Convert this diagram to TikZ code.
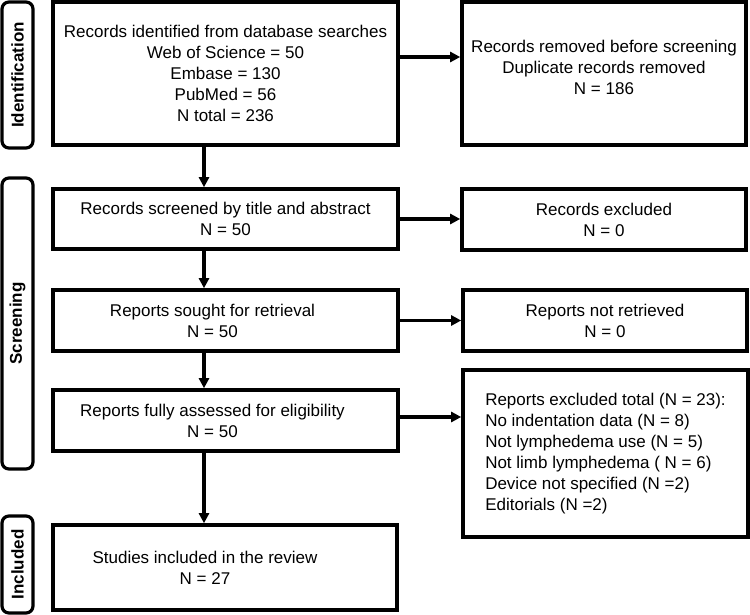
\documentclass[tikz,border=0pt]{standalone}
\usepackage{fontspec}
\setmainfont{Liberation Sans}
\usetikzlibrary{arrows.meta}

\tikzset{
  box/.style={draw, rectangle, line width=3.6pt, inner sep=0pt, align=center},
  sidebox/.style={draw, rectangle, line width=3.2pt, rounded corners=7pt, rotate=90, minimum height=31pt, inner sep=0pt, font=\fontsize{17}{21}\bfseries},
  arr/.style={-{Triangle[length=10pt,width=10pt]}, line width=3.3pt},
}

\begin{document}
\begin{tikzpicture}[x=1pt, y=-1pt, font=\fontsize{17}{21}\selectfont]
\useasboundingbox (0,0) rectangle (750,615);
% phase labels
\node[sidebox, minimum width=146pt] (phaseid) at (17.5,75) {Identification};
\node[sidebox, minimum width=291pt] (phasescr) at (17.5,323.5) {Screening};
\node[sidebox, minimum width=97pt] (phaseinc) at (17.5,564.5) {Included};
% left column
\node[box, minimum width=345pt, minimum height=143pt] (ident) at (225.5,73.5) {Records identified from database searches\\Web of Science = 50\\Embase = 130\\PubMed = 56\\N total = 236};
\node[box, minimum width=345pt, minimum height=60pt] (screen) at (225.5,219) {Records screened by title and abstract\\N = 50};
\node[box, minimum width=345pt, minimum height=61pt, label={[align=center, xshift=-13pt]center:{Reports sought for retrieval\\N = 50}}] (sought) at (225.5,320.5) {};
\node[box, minimum width=345pt, minimum height=61pt, label={[align=center, xshift=-13pt]center:{Reports fully assessed for eligibility\\N = 50}}] (assessed) at (225.5,420.5) {};
\node[box, minimum width=344pt, minimum height=85pt, label={[align=center, xshift=-20pt]center:{Studies included in the review\\N = 27}}] (incl) at (225,567.5) {};
% right column
\node[box, minimum width=284pt, minimum height=143pt, label={[align=center, yshift=6pt]center:{Records removed before screening\\Duplicate records removed\\N = 186}}] (removed) at (604,73.5) {};
\node[box, minimum width=284pt, minimum height=61pt] (excl) at (604,219.5) {Records excluded\\N = 0};
\node[box, minimum width=284pt, minimum height=61pt] (notret) at (605,320.5) {Reports not retrieved\\N = 0};
\node[box, minimum width=285pt, minimum height=167pt, align=left] (reasons) at (605.5,453.5) {Reports excluded total (N = 23):\\No indentation data (N = 8)\\Not lymphedema use (N = 5)\\Not limb lymphedema ( N = 6)\\Device not specified (N =2)\\Editorials (N =2)};
% arrows
\coordinate (col) at (204,0);
\draw[arr] (ident.south -| col) -- (screen.north -| col);
\draw[arr] (screen.south -| col) -- (sought.north -| col);
\draw[arr] (sought.south -| col) -- (assessed.north -| col);
\draw[arr] (assessed.south -| col) -- (incl.north -| col);
\draw[arr] ([yshift=16.5pt]ident.east) -- ([yshift=16.5pt]removed.west);
\draw[arr] (screen.east) -- (screen.east -| excl.west);
\draw[arr] (sought.east) -- (sought.east -| notret.west);
\draw[arr] ([yshift=3.5pt]assessed.east) -- ([yshift=3.5pt]assessed.east -| reasons.west);
\end{tikzpicture}
\end{document}
